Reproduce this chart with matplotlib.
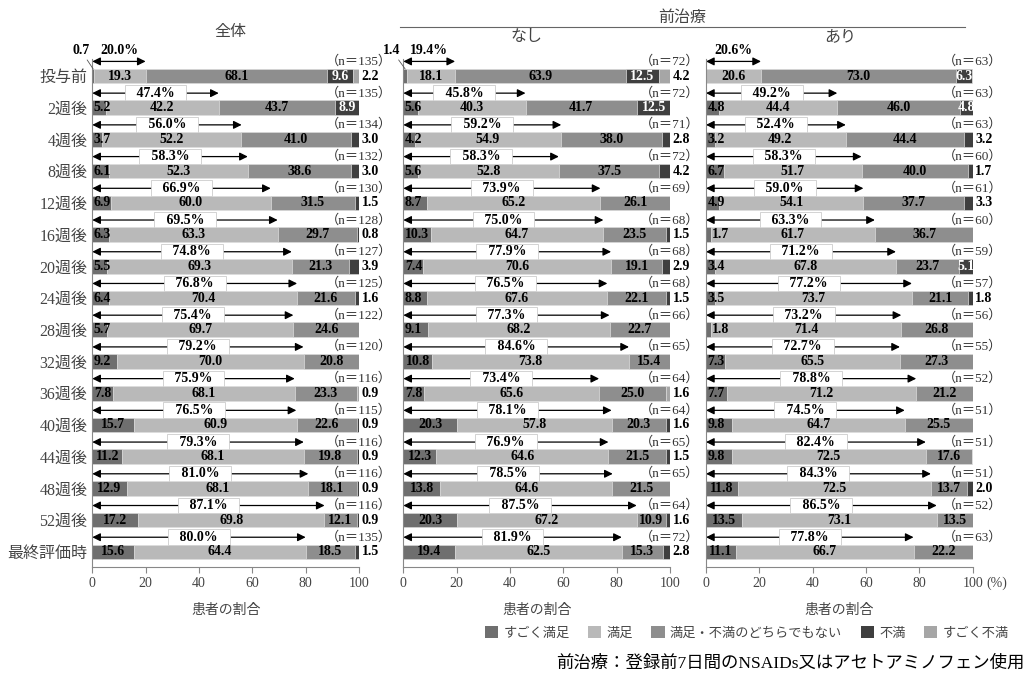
import matplotlib
matplotlib.use('Agg')
import matplotlib.pyplot as plt
from matplotlib.patches import Patch
import numpy as np

plt.rcParams['font.family'] = ['Liberation Serif', 'Noto Sans CJK JP', 'DejaVu Sans']

# 時点
timepoints = ['投与前', '2週後', '4週後', '8週後', '12週後', '16週後', '20週後', '24週後',
              '28週後', '32週後', '36週後', '40週後', '44週後', '48週後', '52週後', '最終評価時']
categories = ['すごく満足', '満足', '満足・不満のどちらでもない', '不満', 'すごく不満']
colors = ['#6f6f6f', '#b9b9b9', '#8e8e8e', '#3f3f3f', '#a6a6a6']

# 全体
all_vs = [0.7, 5.2, 3.7, 6.1, 6.9, 6.3, 5.5, 6.4, 5.7, 9.2, 7.8, 15.7, 11.2, 12.9, 17.2, 15.6]
all_s = [19.3, 42.2, 52.2, 52.3, 60.0, 63.3, 69.3, 70.4, 69.7, 70.0, 68.1, 60.9, 68.1, 68.1, 69.8, 64.4]
all_n = [68.1, 43.7, 41.0, 38.6, 31.5, 29.7, 21.3, 21.6, 24.6, 20.8, 23.3, 22.6, 19.8, 18.1, 12.1, 18.5]
all_d = [9.6, 8.9, 3.0, 3.0, 1.5, 0.8, 3.9, 1.6, 0, 0, 0, 0.9, 0.9, 0.9, 0.9, 1.5]
all_vd = [2.2, 0, 0, 0, 0, 0, 0, 0, 0, 0, 0.9, 0, 0, 0, 0, 0]
all_pct = [20.0, 47.4, 56.0, 58.3, 66.9, 69.5, 74.8, 76.8, 75.4, 79.2, 75.9, 76.5, 79.3, 81.0, 87.1, 80.0]
all_cnt = [135, 135, 134, 132, 130, 128, 127, 125, 122, 120, 116, 115, 116, 116, 116, 135]

# 前治療なし
no_vs = [1.4, 5.6, 4.2, 5.6, 8.7, 10.3, 7.4, 8.8, 9.1, 10.8, 7.8, 20.3, 12.3, 13.8, 20.3, 19.4]
no_s = [18.1, 40.3, 54.9, 52.8, 65.2, 64.7, 70.6, 67.6, 68.2, 73.8, 65.6, 57.8, 64.6, 64.6, 67.2, 62.5]
no_n = [63.9, 41.7, 38.0, 37.5, 26.1, 23.5, 19.1, 22.1, 22.7, 15.4, 25.0, 20.3, 21.5, 21.5, 10.9, 15.3]
no_d = [12.5, 12.5, 2.8, 4.2, 0, 1.5, 2.9, 1.5, 0, 0, 0, 1.6, 1.5, 0, 1.6, 2.8]
no_vd = [4.2, 0, 0, 0, 0, 0, 0, 0, 0, 0, 1.6, 0, 0, 0, 0, 0]
no_pct = [19.4, 45.8, 59.2, 58.3, 73.9, 75.0, 77.9, 76.5, 77.3, 84.6, 73.4, 78.1, 76.9, 78.5, 87.5, 81.9]
no_cnt = [72, 72, 71, 72, 69, 68, 68, 68, 66, 65, 64, 64, 65, 65, 64, 72]

# 前治療あり
yes_vs = [0, 4.8, 3.2, 6.7, 4.9, 1.7, 3.4, 3.5, 1.8, 7.3, 7.7, 9.8, 9.8, 11.8, 13.5, 11.1]
yes_s = [20.6, 44.4, 49.2, 51.7, 54.1, 61.7, 67.8, 73.7, 71.4, 65.5, 71.2, 64.7, 72.5, 72.5, 73.1, 66.7]
yes_n = [73.0, 46.0, 44.4, 40.0, 37.7, 36.7, 23.7, 21.1, 26.8, 27.3, 21.2, 25.5, 17.6, 13.7, 13.5, 22.2]
yes_d = [6.3, 4.8, 3.2, 1.7, 3.3, 0, 5.1, 1.8, 0, 0, 0, 0, 0, 2.0, 0, 0]
yes_vd = [0] * 16
yes_pct = [20.6, 49.2, 52.4, 58.3, 59.0, 63.3, 71.2, 77.2, 73.2, 72.7, 78.8, 74.5, 82.4, 84.3, 86.5, 77.8]
yes_cnt = [63, 63, 63, 60, 61, 60, 59, 57, 56, 55, 52, 51, 51, 51, 52, 63]

panels = [
    ([all_vs, all_s, all_n, all_d, all_vd], all_pct, all_cnt),
    ([no_vs, no_s, no_n, no_d, no_vd], no_pct, no_cnt),
    ([yes_vs, yes_s, yes_n, yes_d, yes_vd], yes_pct, yes_cnt),
]
lefts = [0.0895, 0.3912, 0.6848]

fig = plt.figure(figsize=(10.31, 6.81), dpi=100)
y = np.arange(len(timepoints))
num_kw = dict(fontsize=10, fontweight='bold', va='center')


def draw_panel(ax, series, pct, cnt, first):
    # 矢印と割合ラベル（棒より下に描く）
    for i, p in enumerate(pct):
        ya = i - 0.46
        ax.annotate('', xy=(0, ya), xytext=(p, ya), annotation_clip=False, zorder=1,
                    arrowprops=dict(arrowstyle='<|-|>', lw=0.9, color='black',
                                    shrinkA=0, shrinkB=0, mutation_scale=12))
        if i == 0:
            ax.text(p / 2, i - 0.8, f'{p:.1f}%', ha='center', **num_kw)
        else:
            ax.text(p / 2, ya, f'   {p:.1f}%   ', ha='center', fontsize=10, fontweight='bold',
                    va='center', zorder=1.5,
                    bbox=dict(boxstyle='square,pad=0.1', fc='white', ec='#cccccc', lw=0.6))
        ax.text(100, ya, f'（n＝{cnt[i]}）', ha='center', va='center', fontsize=9.5, color='#333333')

    left = np.zeros(len(y))
    for k, vals in enumerate(series):
        vals = np.array(vals)
        ax.barh(y, vals, left=left, height=0.46, color=colors[k], edgecolor='#dddddd',
                linewidth=0.4, zorder=2)
        for i, v in enumerate(vals):
            if v == 0:
                continue
            cx = left[i] + v / 2
            if k == 0:
                if i == 0 and v < 2:
                    ax.annotate(f'{v:.1f}', xy=(v / 2, -0.22), xytext=(-1, -0.8), ha='right',
                                fontsize=10, fontweight='bold', va='center', annotation_clip=False,
                                arrowprops=dict(arrowstyle='-', lw=0.6, color='#555555', shrinkA=0, shrinkB=0))
                elif v < 3:
                    ax.text(v + 0.5, i, f'{v:.1f}', ha='left', **num_kw)
                elif v < 10:
                    ax.text(0.6, i, f'{v:.1f}', ha='left', **num_kw)
                else:
                    ax.text(cx, i, f'{v:.1f}', ha='center', **num_kw)
            elif k in (1, 2):
                ax.text(cx, i, f'{v:.1f}', ha='center', **num_kw)
            elif k == 3 and v >= 4.5:
                ax.text(cx, i, f'{v:.1f}', ha='center', color='white', **num_kw)
            else:
                ax.text(101, i, f'{v:.1f}', ha='left', **num_kw)
        left = left + vals

    ax.set_xlim(0, 100)
    ax.set_ylim(15.47, -0.55)
    ax.set_xticks([0, 20, 40, 60, 80, 100])
    ax.tick_params(axis='x', labelsize=10, labelcolor='#444444', color='#888888', length=4)
    ax.set_xlabel('患者の割合', fontsize=10, color='#444444', labelpad=10)
    for s in ['top', 'right']:
        ax.spines[s].set_visible(False)
    ax.spines['left'].set_color('#888888')
    ax.spines['bottom'].set_color('#888888')
    ax.set_yticks(y)
    ax.tick_params(axis='y', length=0)
    if first:
        ax.set_yticklabels(timepoints, fontsize=11.5, color='#444444')
    else:
        ax.set_yticklabels([])


axes = []
for j, (series, pct, cnt) in enumerate(panels):
    ax = fig.add_axes([lefts[j], 0.1678, 0.2587, 0.7462])
    draw_panel(ax, series, pct, cnt, j == 0)
    axes.append(ax)

axes[2].annotate('(%)', xy=(1, 0), xycoords='axes fraction', xytext=(10, -12),
                 textcoords='offset points', ha='left', va='center', fontsize=10, color='#444444')

fig.text(0.223, 0.953, '全体', ha='center', va='center', fontsize=11.5, color='#444444')
fig.text(0.662, 0.974, '前治療', ha='center', va='center', fontsize=11.5, color='#444444')
fig.add_artist(plt.Line2D([0.388, 0.936], [0.960, 0.960], color='#666666', lw=0.8))
fig.text(0.511, 0.946, 'なし', ha='center', va='center', fontsize=11.5, color='#444444')
fig.text(0.815, 0.946, 'あり', ha='center', va='center', fontsize=11.5, color='#444444')

handles = [Patch(facecolor=c, edgecolor='none') for c in colors]
fig.legend(handles, categories, loc='center right', bbox_to_anchor=(0.99, 0.0705), ncol=5,
           frameon=False, fontsize=9.5, handlelength=1.0, handleheight=1.0, handletextpad=0.4,
           columnspacing=1.4, labelcolor='#444444')
fig.text(0.994, 0.026, '前治療：登録前7日間のNSAIDs又はアセトアミノフェン使用', ha='right', va='center',
         fontsize=12.5)

fig.savefig('out.png', dpi=100)
